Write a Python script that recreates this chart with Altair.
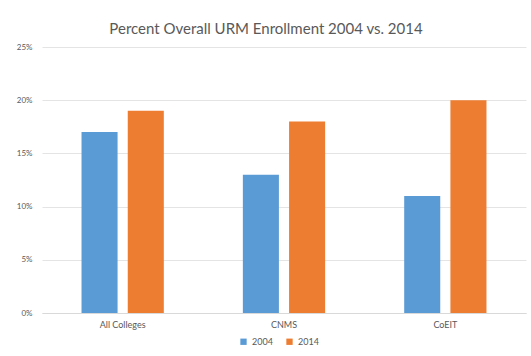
import altair as alt
import pandas as pd

colleges = ["All Colleges", "CNMS", "CoEIT"]
values_2004 = [0.17, 0.13, 0.11]
values_2014 = [0.19, 0.18, 0.20]
years = ["2004", "2014"]
colors = ["#5B9BD5", "#ED7D31"]

rows = []
for c, v in zip(colleges, values_2004):
    rows.append({"college": c, "year": "2004", "value": v})
for c, v in zip(colleges, values_2014):
    rows.append({"college": c, "year": "2014", "value": v})
df = pd.DataFrame(rows)

font = "Lato"

chart = alt.Chart(df).mark_bar().encode(
    x=alt.X("college:N", sort=colleges, title=None,
            scale=alt.Scale(paddingInner=0.49, paddingOuter=0.245),
            axis=alt.Axis(labelAngle=0, labelFontSize=9, labelColor="#595959",
                          ticks=False, domainColor="#D9D9D9", labelPadding=7,
                          labelFont=font)),
    xOffset=alt.XOffset("year:N", scale=alt.Scale(paddingInner=0.22)),
    y=alt.Y("value:Q", title=None,
            scale=alt.Scale(domain=[0, 0.25]),
            axis=alt.Axis(format=".0%", values=[0, 0.05, 0.10, 0.15, 0.20, 0.25],
                          labelFontSize=8, labelColor="#595959", ticks=False,
                          domain=False, gridColor="#E4E4E4", labelPadding=10,
                          labelFont=font)),
    color=alt.Color("year:N", scale=alt.Scale(domain=years, range=colors),
                    legend=alt.Legend(orient="none", direction="horizontal", title=None,
                                      legendX=197, legendY=290,
                                      symbolType="square", symbolSize=40,
                                      labelFontSize=9, labelColor="#595959",
                                      labelFont=font, columnPadding=12,
                                      symbolStrokeWidth=0)),
).properties(
    width=484,
    height=266,
    title=alt.Title("Percent Overall URM Enrollment 2004 vs. 2014",
                    fontSize=15, font=font, fontWeight="normal", color="#595959",
                    anchor="middle", dx=-18, offset=6),
    padding={"left": 42, "top": 47, "right": 5, "bottom": 43},
    autosize=alt.AutoSizeParams(type="none"),
    background="white",
).configure_view(stroke=None)

chart.save("out.html", embed_options={"renderer": "svg", "actions": False})
